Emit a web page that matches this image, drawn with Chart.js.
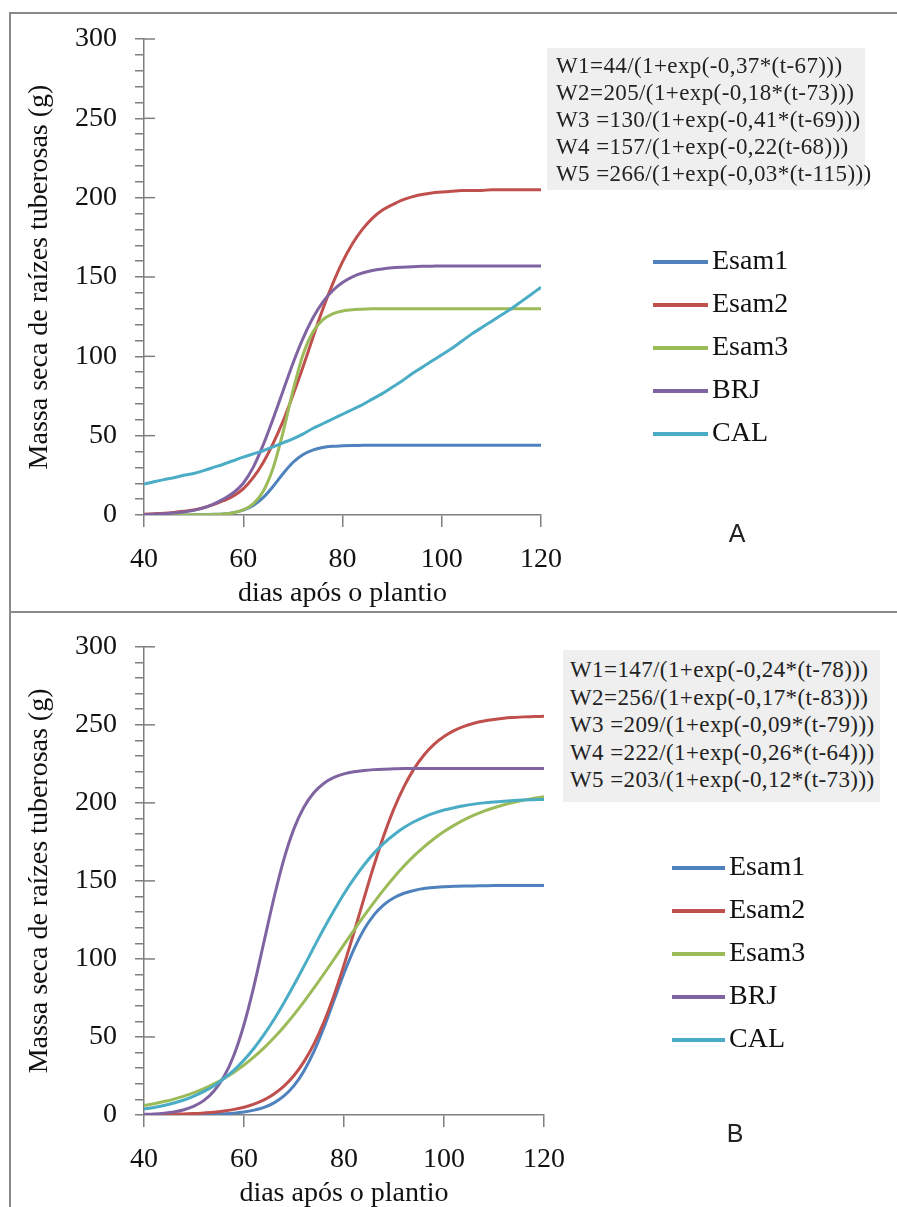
<!DOCTYPE html>
<html>
<head>
<meta charset="utf-8">
<title>Massa seca de raízes tuberosas</title>
<script src="https://cdn.jsdelivr.net/npm/chart.js@4.4.1/dist/chart.umd.min.js"></script>
<style>
    html, body { margin: 0; padding: 0; background: #fff; }
    body { width: 897px; height: 1207px; position: relative; overflow: hidden; }
    canvas { position: absolute; left: 0; }
    .moldura { position: absolute; left: 9px; top: 12px; right: 0; bottom: 0;
               border-left: 2px solid #8a8a8a; border-top: 2px solid #8a8a8a; z-index: 2; }
    .divisoria { position: absolute; left: 9px; top: 611px; width: 888px; height: 2px;
                 background: #8a8a8a; z-index: 2; }
    .equacoes { position: absolute; background: #efefef; color: #222;
                font-family: 'Liberation Serif', serif; font-size: 23px;
                letter-spacing: 0.4px; white-space: nowrap; box-sizing: border-box; z-index: 1; }
    .painel { position: absolute; transform: translate(-50%, -50%);
              font-family: 'Liberation Sans', sans-serif; font-size: 25px; color: #222; z-index: 1; }
</style>
</head>
<body>
<div class="moldura"></div>
<div class="divisoria"></div>

<canvas id="graficoA" width="897" height="612" style="top:0"></canvas>
<canvas id="graficoB" width="897" height="598" style="top:612px"></canvas>

<div class="equacoes" style="left:547px; top:48px; width:318px; height:142px; padding:4px 0 0 9px; line-height:27px;">
    W1=44/(1+exp(-0,37*(t-67)))<br>
    W2=205/(1+exp(-0,18*(t-73)))<br>
    W3 =130/(1+exp(-0,41*(t-69)))<br>
    W4 =157/(1+exp(-0,22(t-68)))<br>
    W5 =266/(1+exp(-0,03*(t-115)))
</div>
<div class="equacoes" style="left:563px; top:650px; width:317px; height:152px; padding:6px 0 0 7px; line-height:27.5px;">
    W1=147/(1+exp(-0,24*(t-78)))<br>
    W2=256/(1+exp(-0,17*(t-83)))<br>
    W3 =209/(1+exp(-0,09*(t-79)))<br>
    W4 =222/(1+exp(-0,26*(t-64)))<br>
    W5 =203/(1+exp(-0,12*(t-73)))
</div>
<div class="painel" style="left:737px; top:533px;">A</div>
<div class="painel" style="left:735px; top:1133px;">B</div>

<script>
// Dias após o plantio (eixo x, comum aos dois gráficos)
const dias = [40, 42, 44, 46, 48, 50, 52, 54, 56, 58, 60, 62, 64, 66, 68, 70, 72, 74, 76, 78, 80,
              82, 84, 86, 88, 90, 92, 94, 96, 98, 100, 102, 104, 106, 108, 110, 112, 114, 116, 118, 120];

const nomes = ['Esam1', 'Esam2', 'Esam3', 'BRJ', 'CAL'];
const cores = ['#4F81BD', '#C0504D', '#9BBB59', '#8064A2', '#4BACC6'];

// Ticks do eixo y (rótulos só nos múltiplos de 50)
const yMin = 0, yMax = 300, yPasso = 10, yRotulo = 50;
const xMin = 40, xMax = 120, xPasso = 20;

// Gráfico A - massa seca (g)
const esam1A = [0, 0, 0, 0, 0, 0.1, 0.2, 0.4, 0.7, 1.5, 3.1, 6.0, 10.9, 18.0, 26.0, 33.1, 38.0, 40.9, 42.5, 43.3, 43.6,
                43.8, 43.9, 44, 44, 44, 44, 44, 44, 44, 44, 44, 44, 44, 44, 44, 44, 44, 44, 44, 44];
const esam2A = [0.5, 0.8, 1.1, 1.6, 2.3, 3.2, 4.6, 6.5, 9.0, 12.0, 16.5, 23.5, 33.0, 45.0, 59.0, 75.5, 93.0, 111.5, 129.5, 145.5, 159.5,
                171.0, 180.0, 187.0, 192.0, 195.5, 198.5, 200.5, 202.0, 203.0, 203.5, 204.0, 204.5, 204.5, 204.5, 205, 205, 205, 205, 205, 205];
const esam3A = [0, 0, 0, 0, 0, 0.1, 0.1, 0.3, 0.6, 1.4, 3.2, 7.0, 14.8, 29.4, 51.9, 78.1, 100.6, 115.2, 123.0, 126.8, 128.6,
                129.4, 129.7, 130, 130, 130, 130, 130, 130, 130, 130, 130, 130, 130, 130, 130, 130, 130, 130, 130, 130];
const brjA   = [0.3, 0.5, 0.8, 1.2, 1.9, 2.9, 4.5, 6.9, 10.0, 14.0, 20.0, 30.0, 44.0, 60.5, 78.0, 95.5, 111.0, 124.0, 134.0, 141.3, 146.5,
                150.1, 152.5, 154.1, 155.1, 155.8, 156.2, 156.5, 156.7, 156.8, 157, 157, 157, 157, 157, 157, 157, 157, 157, 157, 157];
const calA   = [19.5, 21.0, 22.3, 23.5, 25.0, 26.2, 28.0, 30.0, 32.0, 34.2, 36.5, 38.5, 40.5, 43.0, 45.5, 48.0, 51.0, 54.5, 57.5, 60.5, 63.5,
                66.5, 69.5, 73.0, 76.5, 80.5, 84.5, 89.0, 93.0, 97.0, 101.0, 105.0, 109.5, 114.0, 118.0, 122.0, 126.0, 130.0, 134.5, 139.0, 143.5];

// Gráfico B - massa seca (g)
const esam1B = [0, 0, 0, 0.1, 0.1, 0.2, 0.3, 0.5, 0.8, 1.2, 1.9, 3.1, 4.9, 7.8, 12.2, 18.8, 28.2, 40.7, 56.2, 73.5, 90.8,
                106.3, 118.8, 128.2, 134.8, 139.2, 142.1, 143.9, 145.1, 145.8, 146.3, 146.5, 146.7, 146.8, 146.9, 147, 147, 147, 147, 147, 147];
const esam2B = [0.2, 0.2, 0.3, 0.5, 0.7, 0.9, 1.3, 1.8, 2.6, 3.6, 5.0, 7.0, 9.7, 13.5, 18.5, 25.3, 34.2, 45.6, 59.7, 76.6, 96.1,
                117.1, 138.8, 160.0, 179.4, 196.3, 210.4, 221.8, 230.7, 237.5, 242.5, 246.3, 249.0, 251.0, 252.4, 253.4, 254.2, 254.7, 255.1, 255.3, 255.5];
const esam3B = [6.1, 7.2, 8.6, 10.2, 12.1, 14.3, 16.9, 19.9, 23.4, 27.4, 32.0, 37.2, 43.0, 49.5, 56.6, 64.3, 72.6, 81.4, 90.5, 99.8, 109.2,
                118.5, 127.6, 136.3, 144.6, 152.4, 159.5, 166.0, 171.8, 177.0, 181.6, 185.6, 189.1, 192.1, 194.7, 196.9, 198.8, 200.4, 201.8, 202.9, 203.9];
const brjB   = [0.4, 0.7, 1.2, 2.0, 3.4, 5.7, 9.4, 15.4, 24.7, 38.5, 58.0, 82.8, 111.0, 139.2, 164.1, 183.5, 197.3, 206.6, 212.6, 216.3, 218.6,
                220.0, 220.8, 221.3, 221.6, 221.8, 222, 222, 222, 222, 222, 222, 222, 222, 222, 222, 222, 222, 222, 222, 222];
const calB   = [3.8, 4.8, 6.1, 7.7, 9.6, 12.1, 15.1, 18.8, 23.4, 28.8, 35.2, 42.8, 51.5, 61.2, 71.9, 83.4, 95.4, 107.6, 119.6, 131.0, 141.8,
                151.5, 160.2, 167.8, 174.2, 179.6, 184.2, 187.9, 190.9, 193.4, 195.4, 196.9, 198.2, 199.2, 200.0, 200.6, 201.1, 201.5, 201.8, 202.0, 202.2];

const corEixo = '#7f7f7f';
const fonteSerif = "'Liberation Serif', serif";

// Legenda desenhada à direita da área do gráfico
const legendaSeries = {
    id: 'legendaSeries',
    afterDraw(chart, args, opts) {
        const ctx = chart.ctx;
        ctx.save();
        ctx.font = `28px ${fonteSerif}`;
        ctx.textBaseline = 'middle';
        ctx.textAlign = 'left';
        chart.data.datasets.forEach((ds, i) => {
            const y = opts.y + i * opts.gap;
            ctx.strokeStyle = ds.borderColor;
            ctx.lineWidth = 4;
            ctx.beginPath();
            ctx.moveTo(opts.x, y);
            ctx.lineTo(opts.x + opts.len, y);
            ctx.stroke();
            ctx.fillStyle = '#111';
            ctx.fillText(ds.label, opts.x + opts.len + 4, y);
        });
        ctx.restore();
    }
};

// Marcas principais do eixo y atravessam para dentro do gráfico
const marcasInternas = {
    id: 'marcasInternas',
    beforeDatasetsDraw(chart) {
        const ctx = chart.ctx;
        const escala = chart.scales.y;
        const esq = chart.chartArea.left;
        ctx.save();
        ctx.strokeStyle = corEixo;
        ctx.lineWidth = 1.5;
        escala.ticks.forEach(t => {
            if (t.value % yRotulo !== 0 || t.value === yMin) return;
            const py = escala.getPixelForValue(t.value);
            ctx.beginPath();
            ctx.moveTo(esq, py);
            ctx.lineTo(esq + 11, py);
            ctx.stroke();
        });
        ctx.restore();
    }
};

function criarGrafico(id, series, caixa, legenda) {
    const datasets = nomes.map((nome, i) => ({
        label: nome,
        data: dias.map((d, k) => ({ x: d, y: series[i][k] })),
        borderColor: cores[i],
        backgroundColor: cores[i],
        borderWidth: 3,
        pointRadius: 0,
        cubicInterpolationMode: 'monotone',
        order: nomes.length - i
    }));

    return new Chart(document.getElementById(id), {
        type: 'line',
        data: { datasets },
        options: {
            responsive: false,
            animation: false,
            devicePixelRatio: 1,
            layout: { padding: { top: caixa.topo, right: caixa.direita, left: 0, bottom: 0 } },
            plugins: {
                legend: { display: false },
                tooltip: { enabled: false },
                legendaSeries: legenda
            },
            scales: {
                x: {
                    type: 'linear',
                    min: xMin,
                    max: xMax,
                    ticks: { stepSize: xPasso, padding: 16, color: '#111', font: { family: fonteSerif, size: 28 } },
                    grid: { drawOnChartArea: false, tickLength: 12, color: corEixo, lineWidth: 1.5 },
                    border: { color: corEixo, width: 1.5 },
                    title: {
                        display: true,
                        text: 'dias após o plantio',
                        color: '#111',
                        font: { family: fonteSerif, size: 28 },
                        padding: { top: 0, bottom: caixa.tituloX }
                    },
                    afterFit: s => { s.height = caixa.alturaX; }
                },
                y: {
                    min: yMin,
                    max: yMax,
                    ticks: {
                        stepSize: yPasso,
                        autoSkip: false,
                        padding: 18,
                        color: '#111',
                        font: { family: fonteSerif, size: 28 },
                        callback: v => (v % yRotulo === 0 ? v : '')
                    },
                    grid: { drawOnChartArea: false, tickLength: 9, color: corEixo, lineWidth: 1.5 },
                    border: { color: corEixo, width: 1.5 },
                    title: {
                        display: true,
                        text: 'Massa seca de raízes tuberosas (g)',
                        color: '#111',
                        font: { family: fonteSerif, size: 28 },
                        padding: { top: 23, bottom: 0 }
                    },
                    afterFit: s => { s.width = 144; }
                }
            }
        },
        plugins: [legendaSeries, marcasInternas]
    });
}

criarGrafico('graficoA', [esam1A, esam2A, esam3A, brjA, calA],
    { topo: 39, direita: 356, alturaX: 97, tituloX: 2 },
    { x: 653, y: 262, len: 55, gap: 43 });

criarGrafico('graficoB', [esam1B, esam2B, esam3B, brjB, calB],
    { topo: 28, direita: 353, alturaX: 95, tituloX: 0 },
    { x: 672, y: 256, len: 53, gap: 43 });
</script>
</body>
</html>
